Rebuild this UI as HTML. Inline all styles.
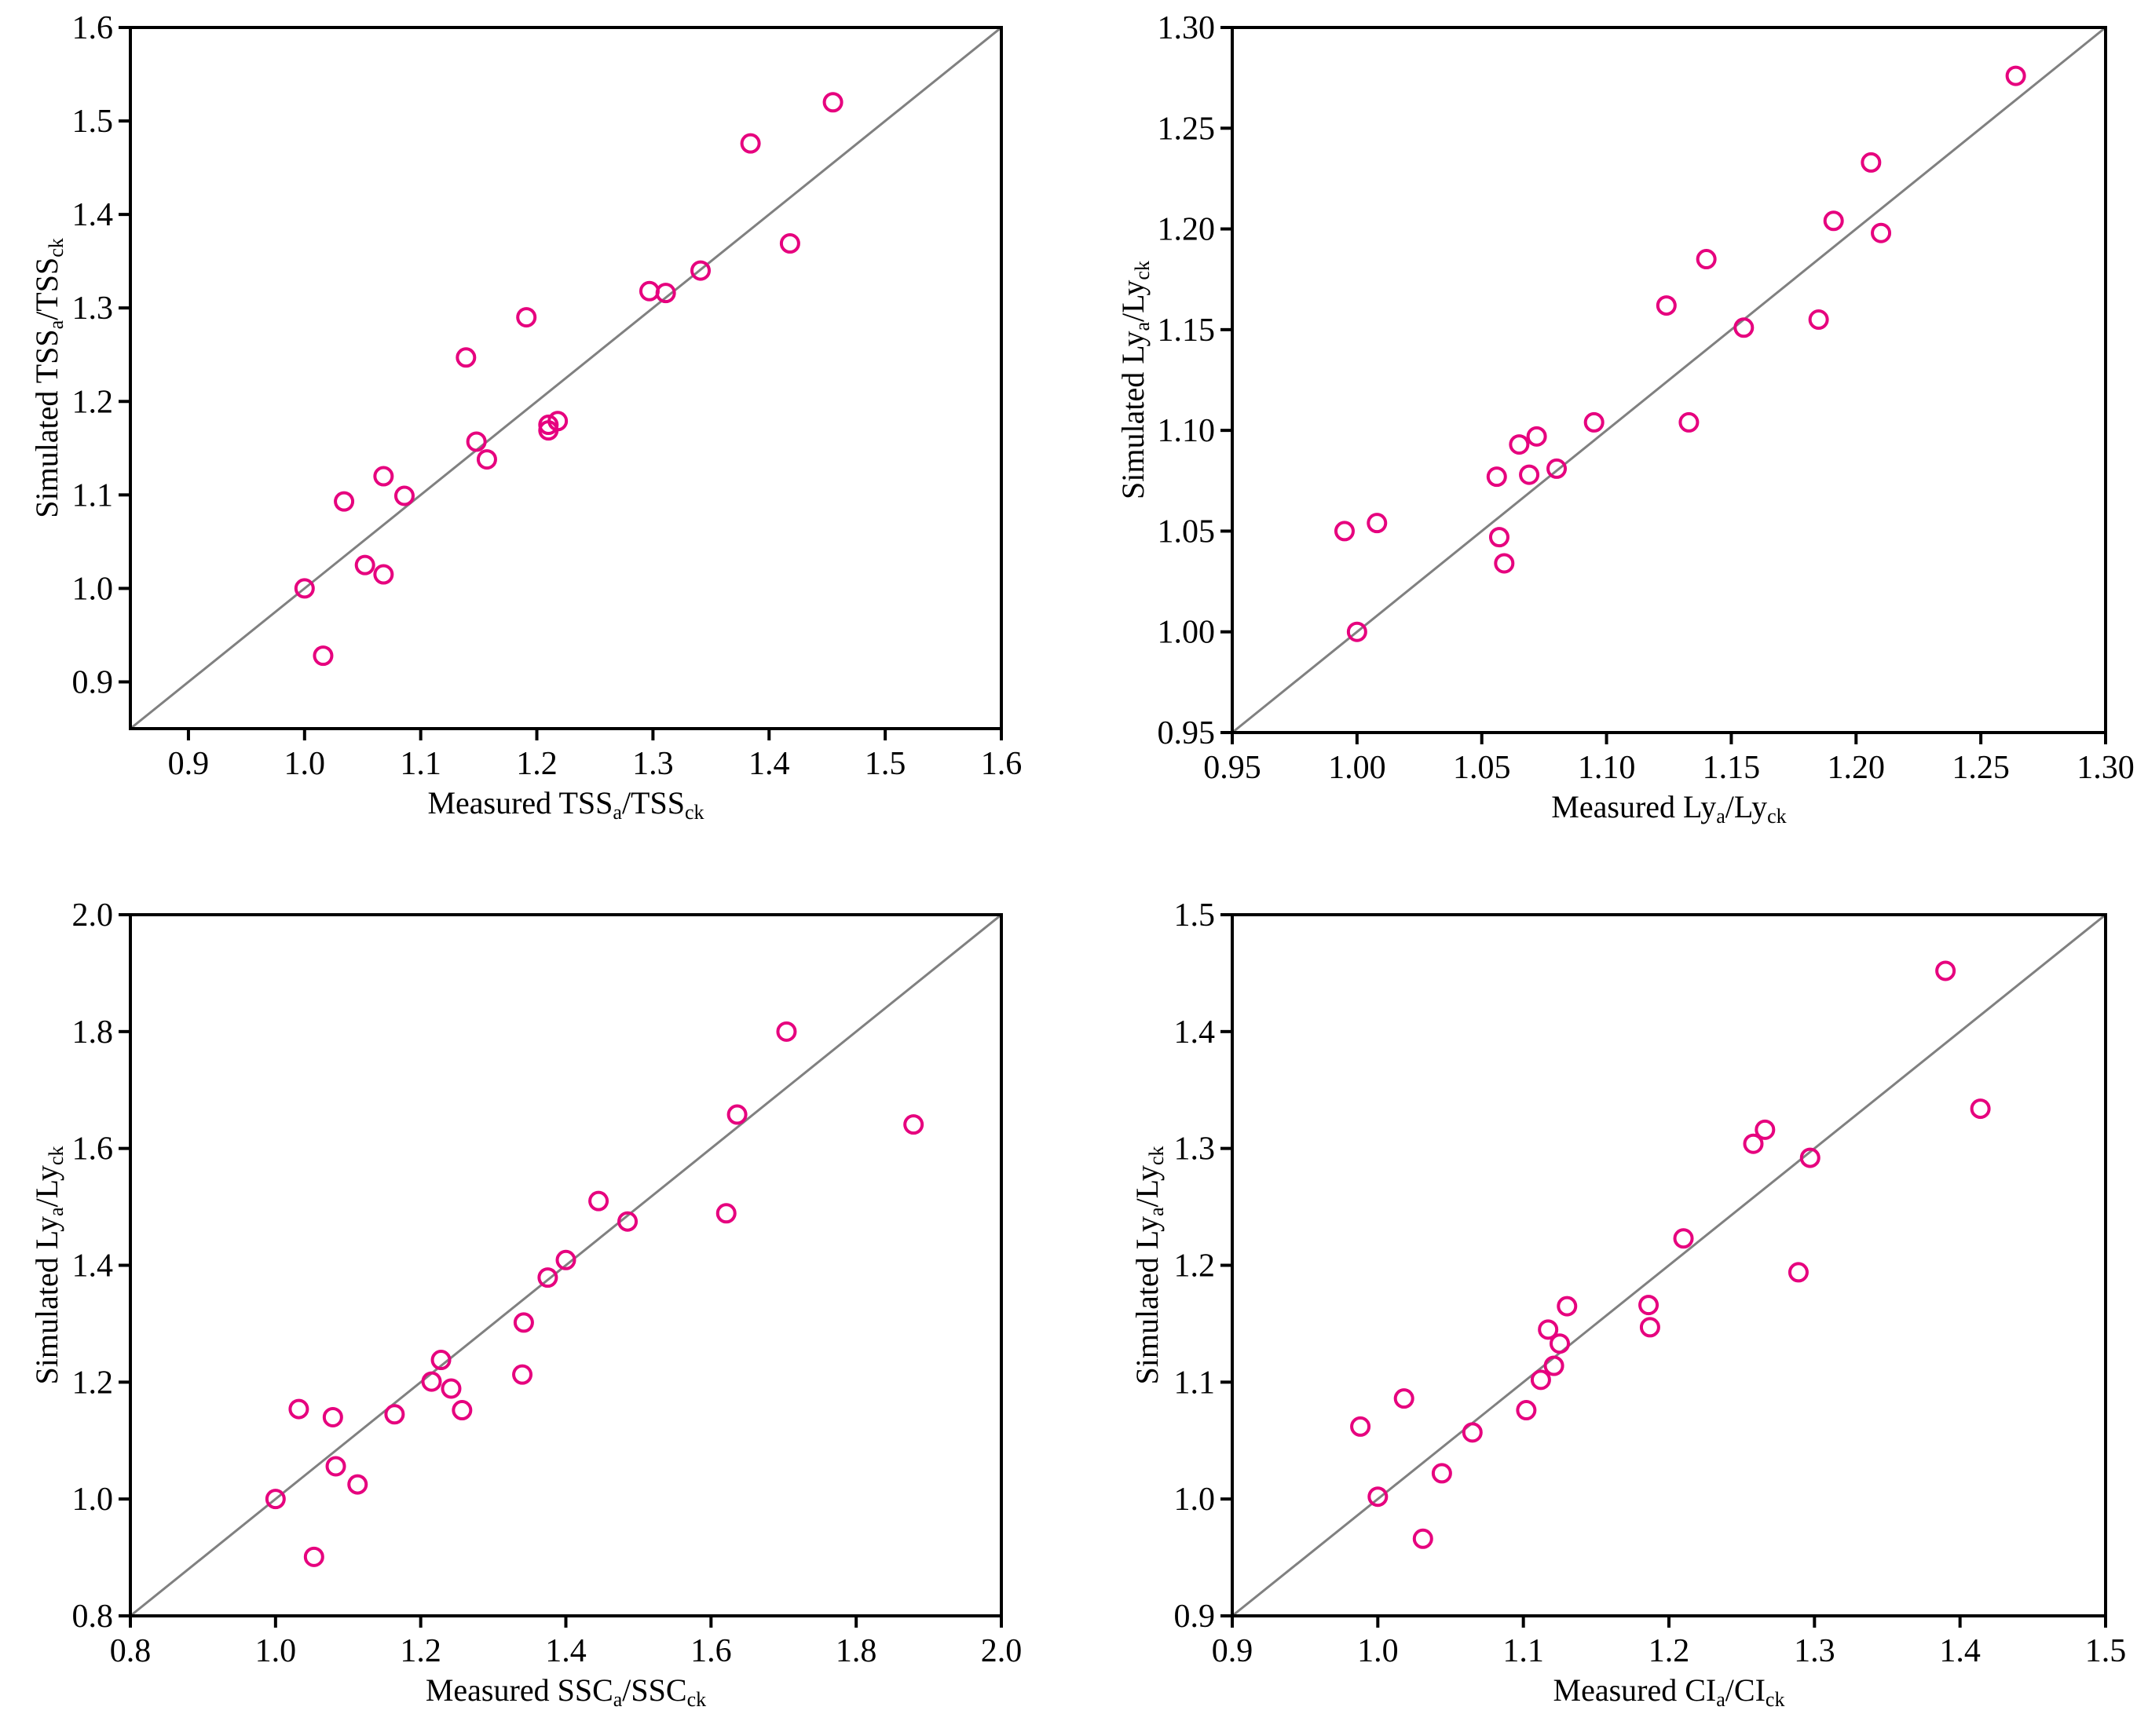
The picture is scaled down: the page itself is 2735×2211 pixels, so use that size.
<!DOCTYPE html>
<html><head><meta charset="utf-8"><style>
html,body{margin:0;padding:0;background:#fff;}
svg{display:block;font-family:"Liberation Serif",serif;}
</style></head><body>
<svg id="fig" width="2735" height="2211" viewBox="0 0 2735 2211" xmlns="http://www.w3.org/2000/svg"></svg>
<script>
// Panel A: TSS
const tssMeasured = [1.0,1.016,1.034,1.052,1.068,1.068,1.086,1.139,1.148,1.157,1.191,1.21,1.21,1.218,1.297,1.311,1.341,1.384,1.418,1.455];
const tssSimulated = [1.0,0.928,1.093,1.025,1.12,1.015,1.099,1.247,1.157,1.138,1.29,1.169,1.175,1.179,1.318,1.316,1.34,1.476,1.369,1.52];
const tssTicks = ["0.9","1.0","1.1","1.2","1.3","1.4","1.5","1.6"];
// Panel B: Ly
const lyMeasured = [0.995,1.0,1.008,1.056,1.057,1.059,1.065,1.069,1.072,1.080,1.095,1.124,1.133,1.140,1.155,1.185,1.191,1.206,1.210,1.264];
const lySimulated = [1.05,1.0,1.054,1.077,1.047,1.034,1.093,1.078,1.097,1.081,1.104,1.162,1.104,1.185,1.151,1.155,1.204,1.233,1.198,1.276];
const lyTicks = ["0.95","1.00","1.05","1.10","1.15","1.20","1.25","1.30"];
// Panel C: SSC
const sscMeasured = [1.0,1.032,1.053,1.079,1.083,1.113,1.164,1.215,1.228,1.242,1.257,1.340,1.342,1.375,1.400,1.445,1.485,1.621,1.636,1.704,1.879];
const sscSimulated = [1.0,1.154,0.901,1.14,1.056,1.025,1.145,1.201,1.238,1.189,1.152,1.213,1.302,1.379,1.409,1.51,1.475,1.489,1.658,1.80,1.641];
const sscTicks = ["0.8","1.0","1.2","1.4","1.6","1.8","2.0"];
// Panel D: CI
const ciMeasured = [0.988,1.0,1.018,1.031,1.044,1.065,1.102,1.112,1.117,1.121,1.125,1.130,1.186,1.187,1.21,1.258,1.266,1.289,1.297,1.39,1.414];
const ciSimulated = [1.062,1.002,1.086,0.966,1.022,1.057,1.076,1.102,1.145,1.114,1.133,1.165,1.166,1.147,1.223,1.304,1.316,1.194,1.292,1.452,1.334];
const ciTicks = ["0.9","1.0","1.1","1.2","1.3","1.4","1.5"];

const NS="http://www.w3.org/2000/svg";
const fig=document.getElementById('fig');
function mk(tag,attrs,parent){const e=document.createElementNS(NS,tag);for(const k in attrs)e.setAttribute(k,attrs[k]);(parent||fig).appendChild(e);return e;}

function panel(name,box,yoff,xmin,xmax,ymin,ymax,xticks,yticks,xs,ys,xl,yl){
  const g=mk('g',{});
  
  
  const sx=v=>box.l+(v-xmin)/(xmax-xmin)*(box.r-box.l);
  const sy=v=>box.b-(v-ymin)/(ymax-ymin)*(box.b-box.t);
  const lo=Math.max(xmin,ymin), hi=Math.min(xmax,ymax);
  const ln=mk('line',{x1:sx(lo),y1:sy(lo),x2:sx(hi),y2:sy(hi),stroke:'#808080','stroke-width':3},g);
  
  
  const fr=mk('rect',{x:box.l,y:box.t,width:box.r-box.l,height:box.b-box.t,fill:'none',stroke:'#000','stroke-width':4},g);
  
  
  xticks.forEach(t=>{const v=parseFloat(t),x=sx(v);
    mk('line',{x1:x,y1:box.b,x2:x,y2:box.b+15,stroke:'#000','stroke-width':4},g);
    const tx=mk('text',{x:x,y:box.b+58,'font-size':42,'text-anchor':'middle'},g);
    
    
    tx.textContent=t;});
  yticks.forEach(t=>{const v=parseFloat(t),y=sy(v);
    mk('line',{x1:box.l-15,y1:y,x2:box.l,y2:y,stroke:'#000','stroke-width':4},g);
    const tx=mk('text',{x:box.l-22,y:y+14,'font-size':42,'text-anchor':'end'},g);
    
    
    tx.textContent=t;});
  xs.forEach((xv,i)=>{
    const c=mk('circle',{cx:sx(xv),cy:sy(ys[i]),r:11,fill:'none',stroke:'#e6007e','stroke-width':4},g);
    
    
  });
  const lab=a=>a[0]+'<tspan font-size="26" dy="7">'+a[1]+'</tspan><tspan dy="-7">'+a[2]+'</tspan><tspan font-size="26" dy="7">'+a[3]+'</tspan>';
  const xt=mk('text',{x:(box.l+box.r)/2,y:box.b+108,'font-size':40,'text-anchor':'middle'},g);
  
  
  xt.innerHTML=lab(xl);
  const cy=(box.t+box.b)/2;
  const yt=mk('text',{x:0,y:0,'font-size':40,'text-anchor':'middle',transform:`translate(${box.l-yoff},${cy}) rotate(-90)`},g);
  
  
  yt.innerHTML=lab(yl);
}
const A={l:166,r:1275,t:35,b:928}, B={l:1569,r:2681,t:35,b:933},
      C={l:166,r:1275,t:1165,b:2058}, D={l:1569,r:2681,t:1165,b:2058};
panel('panel-tss',A,93,0.85,1.6,0.85,1.6,tssTicks,tssTicks,tssMeasured,tssSimulated,['Measured TSS','a','/TSS','ck'],['Simulated TSS','a','/TSS','ck']);
panel('panel-ly',B,113,0.95,1.30,0.95,1.30,lyTicks,lyTicks,lyMeasured,lySimulated,['Measured Ly','a','/Ly','ck'],['Simulated Ly','a','/Ly','ck']);
panel('panel-ssc',C,93,0.8,2.0,0.8,2.0,sscTicks,sscTicks,sscMeasured,sscSimulated,['Measured SSC','a','/SSC','ck'],['Simulated Ly','a','/Ly','ck']);
panel('panel-ci',D,95,0.9,1.5,0.9,1.5,ciTicks,ciTicks,ciMeasured,ciSimulated,['Measured CI','a','/CI','ck'],['Simulated Ly','a','/Ly','ck']);
</script>
</body></html>
